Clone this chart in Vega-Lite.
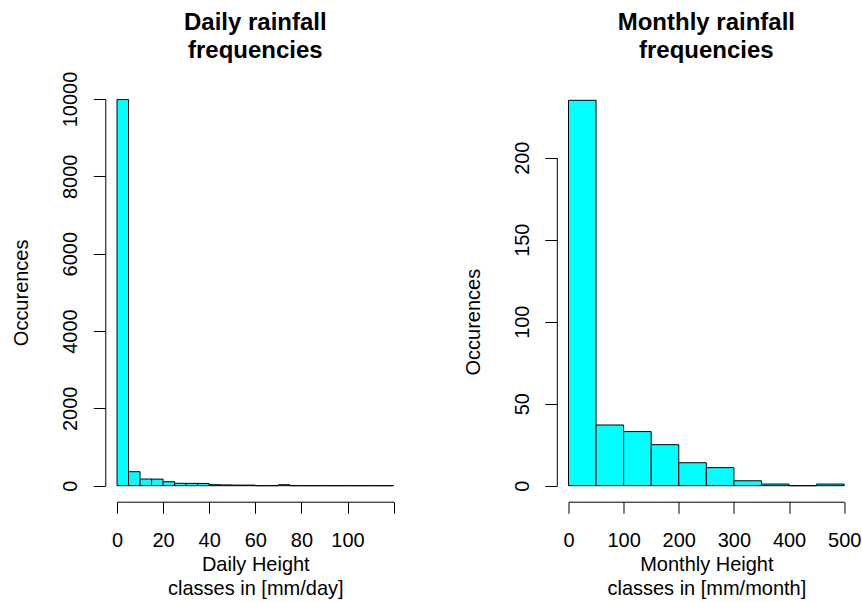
{
  "$schema": "https://vega.github.io/schema/vega-lite/v6.json",
  "background": "white",
  "padding": {"left": 11, "top": 10, "right": 0, "bottom": 0},
  "autosize": {"type": "pad"},
  "spacing": 174.5,
  "bounds": "flush",
  "datasets": {
    "daily": [
      {"lo": 0, "hi": 5, "n": 9985},
      {"lo": 5, "hi": 10, "n": 362},
      {"lo": 10, "hi": 15, "n": 173},
      {"lo": 15, "hi": 20, "n": 170},
      {"lo": 20, "hi": 25, "n": 103},
      {"lo": 25, "hi": 30, "n": 62},
      {"lo": 30, "hi": 35, "n": 60},
      {"lo": 35, "hi": 40, "n": 58},
      {"lo": 40, "hi": 45, "n": 25},
      {"lo": 45, "hi": 50, "n": 20},
      {"lo": 50, "hi": 55, "n": 15},
      {"lo": 55, "hi": 60, "n": 15},
      {"lo": 60, "hi": 65, "n": 0},
      {"lo": 65, "hi": 70, "n": 0},
      {"lo": 70, "hi": 75, "n": 25},
      {"lo": 75, "hi": 80, "n": 0},
      {"lo": 80, "hi": 85, "n": 0},
      {"lo": 85, "hi": 90, "n": 0},
      {"lo": 90, "hi": 95, "n": 0},
      {"lo": 95, "hi": 100, "n": 0},
      {"lo": 100, "hi": 105, "n": 0},
      {"lo": 105, "hi": 110, "n": 0},
      {"lo": 110, "hi": 115, "n": 0},
      {"lo": 115, "hi": 120, "n": 0}
    ],
    "monthly": [
      {"lo": 0, "hi": 50, "n": 235},
      {"lo": 50, "hi": 100, "n": 37},
      {"lo": 100, "hi": 150, "n": 33},
      {"lo": 150, "hi": 200, "n": 25},
      {"lo": 200, "hi": 250, "n": 14},
      {"lo": 250, "hi": 300, "n": 11},
      {"lo": 300, "hi": 350, "n": 3},
      {"lo": 350, "hi": 400, "n": 1},
      {"lo": 400, "hi": 450, "n": 0},
      {"lo": 450, "hi": 500, "n": 1}
    ]
  },
  "config": {
    "font": "Liberation Sans",
    "view": {"stroke": null},
    "title": {
      "font": "Liberation Sans",
      "fontSize": 24,
      "fontWeight": "bold",
      "color": "black",
      "anchor": "middle",
      "frame": "group",
      "lineHeight": 28,
      "baseline": "bottom"
    },
    "axis": {
      "grid": false,
      "domainColor": "black",
      "domainWidth": 1,
      "tickColor": "black",
      "tickWidth": 1,
      "labelColor": "black",
      "titleColor": "black",
      "labelFont": "Liberation Sans",
      "titleFont": "Liberation Sans",
      "labelFontSize": 20,
      "titleFontSize": 20,
      "titleFontWeight": "normal",
      "labelOverlap": false,
      "labelFlush": false,
      "labelBound": false
    },
    "axisX": {
      "offset": 16,
      "tickSize": 11.6,
      "labelPadding": 33.4,
      "labelBaseline": "alphabetic",
      "labelAlign": "center",
      "labelAngle": 0,
      "titleY": 69,
      "titleBaseline": "alphabetic",
      "titleLineHeight": 24.3
    },
    "axisY": {
      "offset": 11.7,
      "tickSize": 12,
      "labelAngle": -90,
      "labelAlign": "center",
      "labelBaseline": "alphabetic",
      "labelPadding": 16.5,
      "titleX": -77.5,
      "titleAngle": -90,
      "titleAlign": "center",
      "titleBaseline": "alphabetic"
    }
  },
  "hconcat": [
    {
      "width": 276.6,
      "height": 386.7,
      "title": {"text": ["Daily rainfall ", "frequencies"], "offset": 8.2},
      "data": {"name": "daily"},
      "mark": {"type": "rect", "fill": "#00FFFF", "stroke": "black", "strokeWidth": 1},
      "encoding": {
        "x": {
          "field": "lo",
          "type": "quantitative",
          "scale": {"domain": [0, 120], "nice": false, "zero": false},
          "axis": {
            "values": [0, 20, 40, 60, 80, 100, 120],
            "format": "d",
            "labelExpr": "datum.value == 120 ? '' : datum.label",
            "title": ["Daily Height", "classes in [mm/day]"]
          }
        },
        "x2": {"field": "hi"},
        "y": {
          "field": "n",
          "type": "quantitative",
          "scale": {"domain": [0, 10000], "nice": false},
          "axis": {
            "values": [0, 2000, 4000, 6000, 8000, 10000],
            "format": "d",
            "title": "Occurences"
          }
        },
        "y2": {"datum": 0}
      }
    },
    {
      "width": 275.7,
      "height": 386.7,
      "title": {"text": ["Monthly rainfall ", "frequencies"], "offset": 36},
      "data": {"name": "monthly"},
      "mark": {"type": "rect", "fill": "#00FFFF", "stroke": "black", "strokeWidth": 1},
      "encoding": {
        "x": {
          "field": "lo",
          "type": "quantitative",
          "scale": {"domain": [0, 500], "nice": false, "zero": false},
          "axis": {
            "values": [0, 100, 200, 300, 400, 500],
            "format": "d",
            "title": ["Monthly Height", "classes in [mm/month]"]
          }
        },
        "x2": {"field": "hi"},
        "y": {
          "field": "n",
          "type": "quantitative",
          "scale": {"domain": [0, 200], "nice": false, "range": [386.7, 58.7]},
          "axis": {
            "values": [0, 50, 100, 150, 200],
            "format": "d",
            "title": "Occurences"
          }
        },
        "y2": {"datum": 0}
      }
    }
  ]
}
